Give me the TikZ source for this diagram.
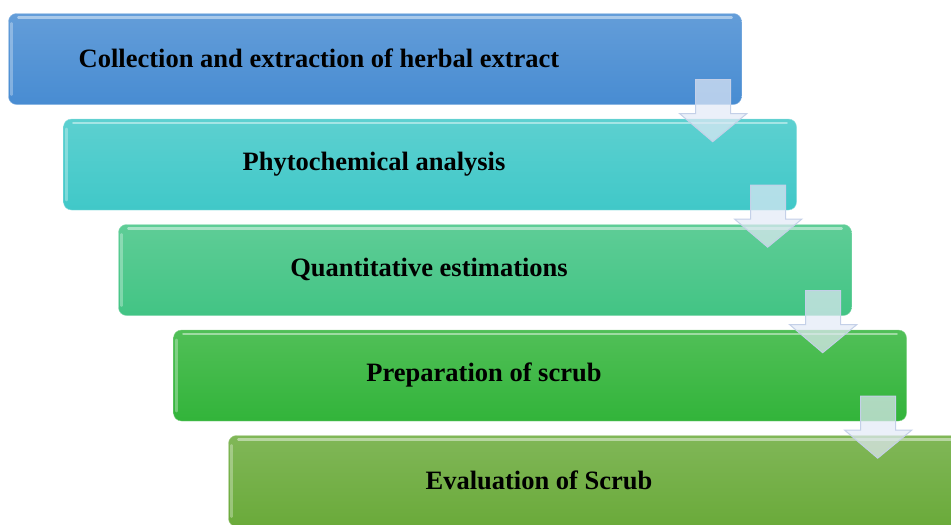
\documentclass[tikz,border=0pt]{standalone}
\usepackage{fontspec}
\setmainfont{Liberation Serif}
\usetikzlibrary{calc}

\definecolor{stage1}{RGB}{72,140,210}
\definecolor{stage2}{RGB}{64,200,200}
\definecolor{stage3}{RGB}{66,196,132}
\definecolor{stage4}{RGB}{50,180,58}
\definecolor{stage5}{RGB}{106,170,58}
\definecolor{arrowfill}{RGB}{226,233,246}
\definecolor{arrowline}{RGB}{196,208,232}

\tikzset{
	stage/.style={rounded corners=8pt, minimum width=733pt, minimum height=91pt, inner sep=0pt},
	stagetext/.style={font=\fontsize{26.5}{32}\selectfont\bfseries, text=black},
	gloss/.style={white, line width=2.5pt, opacity=.45, line cap=round},
	downarrow/.style={fill=arrowfill, fill opacity=.7, draw=arrowline, line width=1pt, line join=miter}
}

\begin{document}
\begin{tikzpicture}[x=1pt, y=-1pt]
		\useasboundingbox (0,0) rectangle (951,525);
		\clip (0,0) rectangle (951,525);
		\def\stages{Collection and extraction of herbal extract,
			Phytochemical analysis,
			Quantitative estimations,
			Preparation of scrub,
			Evaluation of Scrub}
		% boxes, each one step to the right and down
		\foreach \name [count = \i] in \stages{
				\node[stage, top color=stage\i!85!white, bottom color=stage\i, draw=stage\i!60!white]
					(box\i) at (375 + 55*\i - 55, 59 + 105.5*\i - 105.5) {};
				\draw[gloss] ($(box\i.north west)+(10,4)$) -- ($(box\i.north east)+(-10,4)$);
				\draw[gloss, opacity=.3] ($(box\i.north west)+(3,10)$) -- ($(box\i.south west)+(3,-10)$);
				\node[stagetext] (txt\i) at ($(box\i)+(-56,-0.5)$) {\name};
			}
		% block arrows between the steps
		\foreach \i in {1,...,4}{
				\filldraw[downarrow]
					($(box\i.south east)+(-46,-25)$) -- ($(box\i.south east)+(-11,-25)$)
					-- ($(box\i.south east)+(-11,9)$) -- ($(box\i.south east)+(5,9)$)
					-- ($(box\i.south east)+(-29,37)$) -- ($(box\i.south east)+(-62,9)$)
					-- ($(box\i.south east)+(-46,9)$) -- cycle;
			}
	\end{tikzpicture}
\end{document}
